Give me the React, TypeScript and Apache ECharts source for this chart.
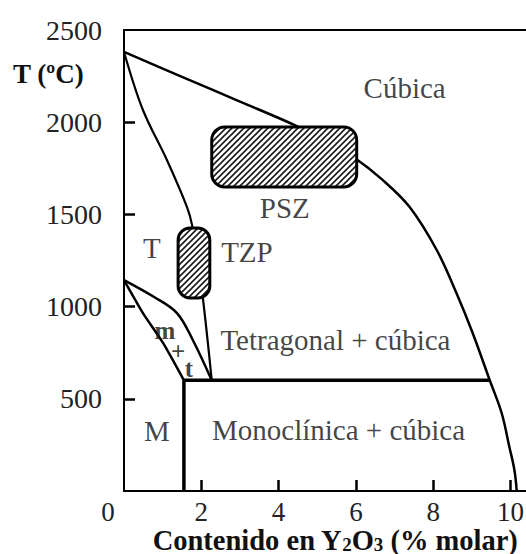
import React, { useEffect, useRef } from "react";
import * as echarts from "echarts";

const FONT = "'Liberation Serif', 'Times New Roman', serif";

// axis ticks
const xTickValues = [0, 2, 4, 6, 8, 10];
const yTickValues = [500, 1000, 1500, 2000, 2500];

// phase boundaries [Y2O3 mol%, T °C]
const cubicBoundary = [
  [0, 2381], [1.5, 2246], [3.0, 2112], [4.47, 1979], [5.25, 1895], [5.97, 1806],
  [6.69, 1687], [7.39, 1540], [8.09, 1307], [8.6, 1074], [9.02, 857], [9.46, 602],
  [9.77, 423], [9.97, 239], [10.1, 114], [10.16, 0],
];
const tetragonalBoundary = [
  [0, 2381], [0.49, 2066], [1.11, 1795], [1.63, 1540], [1.76, 1443],
  [1.9, 1250], [2.04, 1047], [2.27, 600],
];
const mtUpper = [[0, 1144], [0.78, 1052], [1.37, 965], [1.78, 819], [2.27, 600]];
const mtLower = [[0, 1144], [0.49, 965], [1.01, 803], [1.55, 600]];
const eutectoid = [[1.55, 600], [9.46, 600]];
const monoBoundary = [[1.55, 600], [1.55, 0]];

// hatched zones [x0, x1, T0, T1]
const pszBox = [2.27, 6.02, 1649, 1974];
const tzpBox = [1.4, 2.22, 1047, 1426];

// region labels
const regionNames = ["Cúbica", "PSZ", "TZP", "T", "Tetragonal + cúbica", "Monoclínica + cúbica", "M"];
const regionX = [7.26, 4.16, 3.18, 0.72, 5.47, 5.55, 0.85];
const regionT = [2185, 1535, 1296, 1318, 819, 331, 325];
const mtNames = ["m", "+", "t"];
const mtX = [1.06, 1.4, 1.68];
const mtT = [873, 754, 667];

function makeHatch(): HTMLCanvasElement {
  const c = document.createElement("canvas");
  const s = 6;
  c.width = s;
  c.height = s;
  const ctx = c.getContext("2d")!;
  ctx.fillStyle = "#ffffff";
  ctx.fillRect(0, 0, s, s);
  ctx.strokeStyle = "#1a1a1a";
  ctx.lineWidth = 1.6;
  ctx.beginPath();
  ctx.moveTo(-1, s + 1);
  ctx.lineTo(s + 1, -1);
  ctx.moveTo(-1, 1);
  ctx.lineTo(1, -1);
  ctx.moveTo(s - 1, s + 1);
  ctx.lineTo(s + 1, s - 1);
  ctx.stroke();
  return c;
}

export default function App() {
  const ref = useRef<HTMLDivElement>(null);
  useEffect(() => {
    if (!ref.current) return;
    const chart = echarts.init(ref.current, undefined, { renderer: "svg" });
    const hatch = makeHatch();
    const lineSeries = (data: number[][], width: number, smooth: number | boolean) => ({
      type: "line",
      data,
      showSymbol: false,
      symbol: "none",
      smooth,
      lineStyle: { color: "#000", width },
      z: 2,
      silent: true,
    });
    const boxSeries = (box: number[], r: number) => ({
      type: "custom",
      coordinateSystem: "cartesian2d",
      z: 5,
      silent: true,
      data: [box],
      encode: { x: [0, 1], y: [2, 3] },
      renderItem: (params: any, api: any) => {
        const p0 = api.coord([api.value(0), api.value(3)]);
        const p1 = api.coord([api.value(1), api.value(2)]);
        return {
          type: "rect",
          shape: { x: p0[0], y: p0[1], width: p1[0] - p0[0], height: p1[1] - p0[1], r },
          style: {
            fill: { image: hatch, repeat: "repeat" },
            stroke: "#000",
            lineWidth: 3,
          },
        };
      },
    });
    const labelSeries = (names: string[], xs: number[], ts: number[], bold: boolean, size: number) => ({
      type: "scatter",
      symbolSize: 0,
      silent: true,
      z: 6,
      data: names.map((n, i) => ({ name: n, value: [xs[i], ts[i]] })),
      label: {
        show: true,
        position: "inside",
        formatter: "{b}",
        color: "#111",
        fontFamily: FONT,
        fontSize: size,
        fontWeight: bold ? "bold" : "normal",
      },
    });
    chart.setOption({
      animation: false,
      backgroundColor: "#fff",
      grid: { left: 124, right: 0, top: 30, bottom: 63, containLabel: false, outerBoundsMode: "none" },
      xAxis: [
        {
          type: "value",
          min: 0,
          max: 10.4,
          interval: 2,
          splitLine: { show: false },
          axisLine: { lineStyle: { color: "#000", width: 2 } },
          axisTick: { show: true, inside: true, length: 11, customValues: [2, 4, 6, 8, 10], lineStyle: { color: "#000", width: 2.5 } },
          axisLabel: {
            customValues: xTickValues,
            margin: 7,
            color: "#222",
            fontFamily: FONT,
            fontSize: 27,
            formatter: (v: number) => (v === 0 ? "{z|0}" : String(v)),
            rich: { z: { padding: [0, 32, 0, 0], fontFamily: FONT, fontSize: 27, color: "#222" } },
          },
          name: "Contenido en Y{sub|2}O{sub|3} (% molar)",
          nameLocation: "middle",
          nameGap: 35,
          nameMoveOverlap: false,
          nameTextStyle: {
            color: "#111",
            fontFamily: FONT,
            fontSize: 28.5,
            fontWeight: "bold",
            lineHeight: 28,
            padding: [0, 0, 0, 20],
            rich: {
              sub: { fontFamily: FONT, fontSize: 19, fontWeight: "bold", color: "#111", verticalAlign: "bottom", lineHeight: 19 },
            },
          },
        },
        {
          type: "value",
          position: "top",
          min: 0,
          max: 10.4,
          axisLine: { show: true, onZero: false, lineStyle: { color: "#000", width: 2 } },
          axisTick: { show: false },
          axisLabel: { show: false },
          splitLine: { show: false },
        },
      ],
      yAxis: {
        type: "value",
        min: 0,
        max: 2500,
        interval: 500,
        splitLine: { show: false },
        axisLine: { show: true, lineStyle: { color: "#000", width: 2 } },
        axisTick: { show: true, inside: true, length: 11, customValues: [500, 1000, 1500, 2000], lineStyle: { color: "#000", width: 2.5 } },
        axisLabel: {
          customValues: yTickValues,
          margin: 22,
          color: "#222",
          fontFamily: FONT,
          fontSize: 28,
          formatter: (v: number) => String(v),
        },
      },
      graphic: [
        {
          type: "text",
          left: 13,
          top: 60,
          style: { text: "T (ºC)", font: `bold 27px ${FONT}`, fill: "#111" },
        },
      ],
      series: [
        lineSeries(cubicBoundary, 2.5, 0.35),
        lineSeries(tetragonalBoundary, 2.2, 0.35),
        lineSeries(mtUpper, 2.5, 0.35),
        lineSeries(mtLower, 2.5, 0.2),
        lineSeries(eutectoid, 3.5, false),
        lineSeries(monoBoundary, 3.5, false),
        boxSeries(pszBox, 13),
        boxSeries(tzpBox, 12),
        labelSeries(regionNames, regionX, regionT, false, 29),
        labelSeries(mtNames, mtX, mtT, true, 25),
      ],
    });
    return () => chart.dispose();
  }, []);
  return <div ref={ref} style={{ width: 526, height: 554, position: "absolute", left: 0, top: 0 }} />;
}
